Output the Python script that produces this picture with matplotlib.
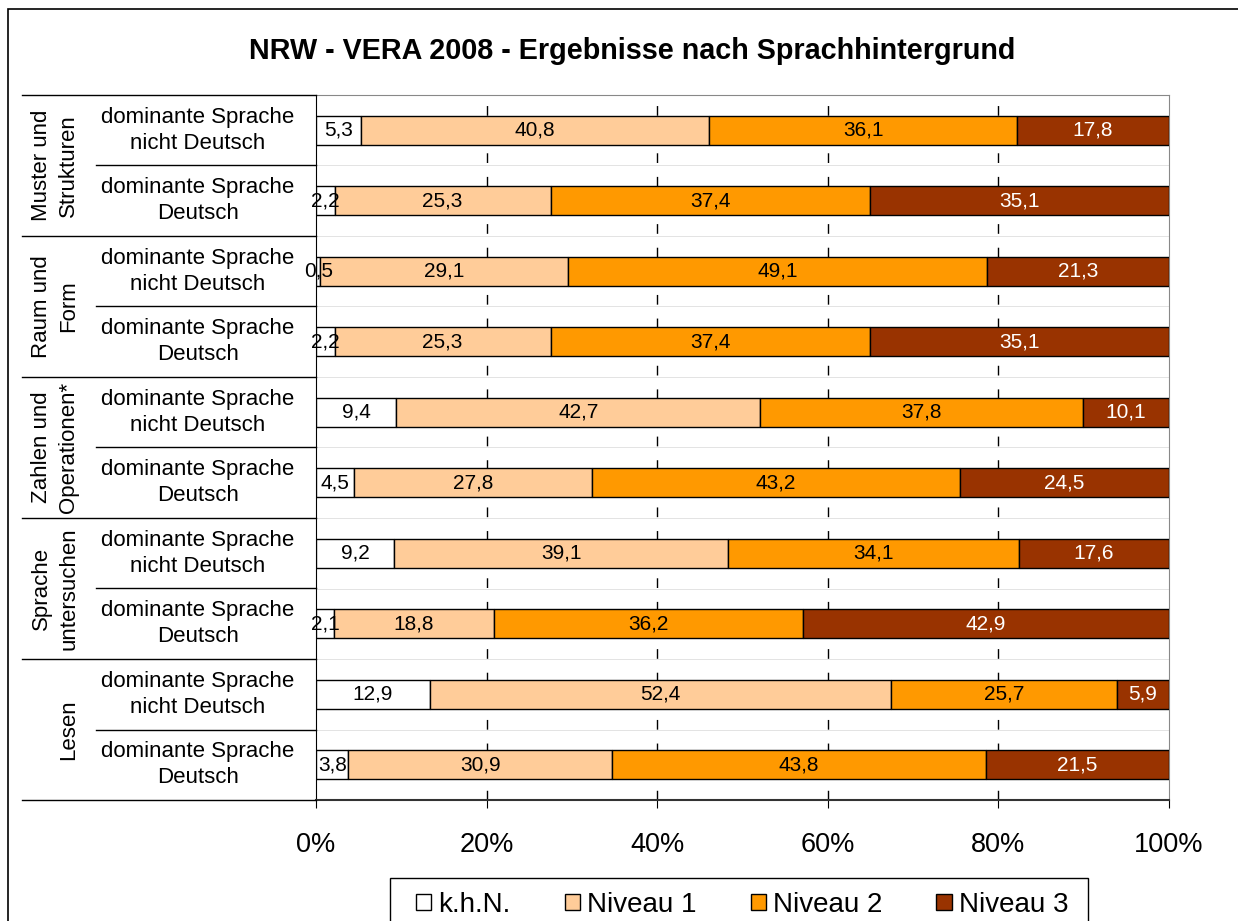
import matplotlib.pyplot as plt
import numpy as np
from matplotlib.patches import Rectangle
from matplotlib.lines import Line2D

plt.rcParams["font.family"] = ["Liberation Sans", "DejaVu Sans"]

# data (values in percent)
groups = ["Muster und\nStrukturen", "Raum und\nForm", "Zahlen und\nOperationen*",
          "Sprache\nuntersuchen", "Lesen"]
rows = ["dominante Sprache\nnicht Deutsch", "dominante Sprache\nDeutsch"] * 5
levels = ["k.h.N.", "Niveau 1", "Niveau 2", "Niveau 3"]
khn = [5.3, 2.2, 0.5, 2.2, 9.4, 4.5, 9.2, 2.1, 12.9, 3.8]
niveau1 = [40.8, 25.3, 29.1, 25.3, 42.7, 27.8, 39.1, 18.8, 52.4, 30.9]
niveau2 = [36.1, 37.4, 49.1, 37.4, 37.8, 43.2, 34.1, 36.2, 25.7, 43.8]
niveau3 = [17.8, 35.1, 21.3, 35.1, 10.1, 24.5, 17.6, 42.9, 5.9, 21.5]
xticks = [0, 20, 40, 60, 80, 100]

colors = ["#FFFFFF", "#FFCC99", "#FF9900", "#993300"]
text_colors = ["black", "black", "black", "white"]

W, H = 1238, 921
fig = plt.figure(figsize=(W / 100, H / 100), dpi=100)

# outer chart border (right and bottom edges lie outside the picture)
fig.patches.append(Rectangle((8 / W, -0.05), 1.2, 1 - 9 / H + 0.05, transform=fig.transFigure,
                             fill=False, edgecolor="black", lw=1.2))

x0, x1, y0, y1 = 316, 1169, 95, 800
ax = fig.add_axes([x0 / W, 1 - y1 / H, (x1 - x0) / W, (y1 - y0) / H])

data = np.array([khn, niveau1, niveau2, niveau3])
pct = data / data.sum(axis=0) * 100
ypos = np.arange(len(rows))
left = np.zeros(len(rows))
for i, lev in enumerate(levels):
    ax.barh(ypos, pct[i], left=left, height=0.41, color=colors[i], edgecolor="black",
            lw=1.0, label=lev, zorder=3)
    for y, l, w, v in zip(ypos, left, pct[i], data[i]):
        ax.text(l + w / 2, y, f"{v:.1f}".replace(".", ","), ha="center", va="center",
                fontsize=15, color=text_colors[i], zorder=4)
    left += pct[i]

ax.set_xlim(0, 100)
ax.set_ylim(len(rows) - 0.5, -0.5)
ax.set_xticks(xticks)
ax.set_xticklabels([f"{t}%" for t in xticks], fontsize=19.5)
ax.tick_params(axis="x", length=6, pad=17, color="black")
ax.set_yticks([])
for t in xticks[1:-1]:
    ax.axvline(t, color="black", lw=1.0, ls=(0, (7, 10)), zorder=1)
for b in np.arange(0.5, len(rows) - 0.5, 1):
    ax.axhline(b, color="#d8d8d8", lw=0.5, zorder=1)
for side in ["top", "right"]:
    ax.spines[side].set_color("#888888")
ax.spines["left"].set_color("black")
ax.spines["bottom"].set_color("#333333")
ax.spines["bottom"].set_linewidth(1.5)

# category labels on the left
row_h = (y1 - y0) / len(rows)
for k, lab in enumerate(rows):
    yc = 1 - (y0 + (k + 0.5) * row_h) / H
    fig.text(198 / W, yc, lab, ha="center", va="center", fontsize=16, linespacing=1.3)
for g, lab in enumerate(groups):
    yc = 1 - (y0 + (2 * g + 1) * row_h) / H
    xc = 69 if "\n" not in lab else 55
    fig.text(xc / W, yc, lab, ha="center", va="center", rotation=90, fontsize=16,
             linespacing=1.4)
for k in range(len(rows) + 1):
    yy = 1 - (y0 + k * row_h) / H
    xs = 22 if k % 2 == 0 else 96
    fig.add_artist(Line2D([xs / W, x0 / W], [yy, yy], color="black", lw=1.0,
                          transform=fig.transFigure))

fig.text(632 / W, 1 - 51 / H, "NRW - VERA 2008 - Ergebnisse nach Sprachhintergrund",
         ha="center", va="center", fontsize=20.7, fontweight="bold")

# legend box drawn separately so the padding matches the original
fig.patches.append(Rectangle((390 / W, -0.02), (1088 - 390) / W, 0.02 + 1 - 878 / H,
                             transform=fig.transFigure, fill=False, edgecolor="black", lw=1.0))
leg = fig.legend(loc="center", bbox_to_anchor=(742 / W, 1 - 905 / H), ncol=4,
                 fontsize=20, frameon=False, borderaxespad=0, borderpad=0,
                 handlelength=0.55, handleheight=0.5, handletextpad=0.25,
                 columnspacing=1.95)

fig.savefig("out.png", dpi=100)
